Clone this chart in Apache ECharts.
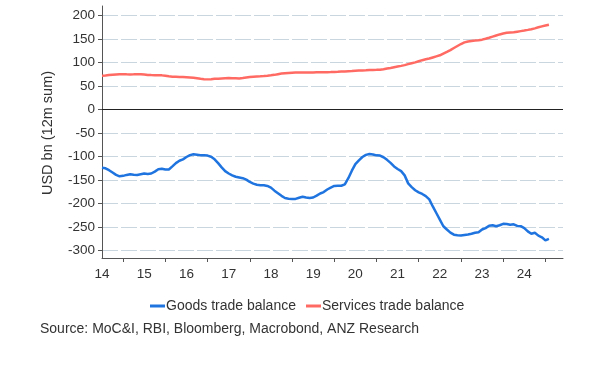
<!DOCTYPE html>
<html><head><meta charset="utf-8">
<script src="https://cdn.jsdelivr.net/npm/echarts@6/dist/echarts.min.js"></script>
<style>html,body{margin:0;padding:0;background:#fff}#c{width:604px;height:372px}</style>
</head><body><div id="c"></div>
<script>
// Monthly categories, Jul 2014 .. Jun 2025
const startYear = 2014, startMonth = 7, monthCount = 132;
const categories = [];
for (let k = 0; k < monthCount; k++) {
  const m = startMonth - 1 + k;
  const y = startYear + Math.floor(m / 12);
  const mo = (m % 12) + 1;
  categories.push(y + '-' + String(mo).padStart(2, '0'));
}
const seriesNames = ['Goods trade balance', 'Services trade balance'];
// USD bn, 12m sum
const goods = [
  -124,-125,-129,-134,-139,-142,-141,-139,-137.5,-138.5,
  -139,-137.5,-136,-137,-136,-132,-127,-126,-127.6,-127.6,
  -121,-114,-109,-106,-101,-97,-95,-96,-97,-97,
  -98,-100.5,-106,-114,-123,-131,-136,-140,-143,-144.5,
  -146,-149,-154,-157.5,-160,-161,-161,-162.5,-166,-172.5,
  -178,-183.5,-188,-189.5,-190,-190,-187.5,-185.5,-187,-188,
  -187,-183,-178.5,-175.5,-170,-166,-162.5,-162,-162,-159,
  -146,-130,-116,-108,-101,-96.5,-94.5,-95.5,-97.5,-98,
  -101.5,-107,-113.5,-121,-126.5,-131,-140,-157,-165,-171.5,
  -176,-179.5,-184,-191,-206,-220,-234,-248,-255,-261.5,
  -266,-267,-267.5,-266.5,-265.5,-264,-262,-261,-255,-252,
  -247,-246,-248,-246,-243,-243.5,-245,-244,-247.5,-248,
  -252,-259,-264,-262,-268,-271.5,-278,-275
];
const services = [
  71.5,72,73,73.8,74.5,75,75,74.7,74.5,74.7,
  75,74.8,74.2,73.3,73,72.8,72.6,72.4,71.5,70.5,
  69.6,69.3,69,68.8,68.4,68,67.5,66.5,65.2,64.4,
  63.9,64.3,65,65.4,65.8,66.2,66.6,66.5,66.3,66,
  66.8,67.8,68.8,69.4,69.9,70.4,71,71.7,72.5,73.5,
  75,76.2,77,77.6,78.2,78.6,78.7,78.7,78.7,78.7,
  78.7,78.9,79,79.1,79.3,79.5,79.8,80.1,80.5,80.8,
  81.2,81.6,82.1,82.6,82.9,83.2,83.6,83.9,84.1,84.4,
  85.3,86.8,88.2,89.7,91.2,92.6,94.2,96.3,98.3,100,
  102.5,104.7,106.6,108.2,110.5,112.8,115,118.8,122.3,126,
  130.5,134.8,139,142.5,144.5,145.5,146.3,147.2,148.3,150.3,
  152.4,154.8,157.2,159.4,161.3,162.8,163.5,164,165.2,166.4,
  167.6,169,170.5,172.3,174.5,176.5,178.4,180
];
const yMin = -300, yMax = 200, yStep = 50;

const FONT = '"Liberation Sans", Arial, sans-serif';
const chart = echarts.init(document.getElementById('c'), null, {renderer: 'canvas'});
chart.setOption({
  animation: false,
  backgroundColor: '#ffffff',
  textStyle: {fontFamily: FONT},
  title: {
    text: 'Source: MoC&I, RBI, Bloomberg, Macrobond, ANZ Research',
    left: 35, top: 317,
    textStyle: {fontSize: 14, fontWeight: 'normal', color: '#333', fontFamily: FONT}
  },
  legend: {
    data: seriesNames,
    left: 145, top: 294,
    icon: 'rect', itemWidth: 15, itemHeight: 3, itemGap: 10,
    textStyle: {fontSize: 14, color: '#333', fontFamily: FONT, padding: [0, 0, 0, -4]}
  },
  grid: [
    {left: 102, right: 41, top: 6, bottom: 114},
    {left: 102, right: 41, top: 15.3, bottom: 121.3}
  ],
  xAxis: [
    {
      gridIndex: 0, type: 'category', data: categories, boundaryGap: false,
      axisLine: {lineStyle: {color: '#555', width: 1}},
      axisTick: {interval: (i, v) => v.endsWith('-01'), length: 4, lineStyle: {color: '#555'}},
      axisLabel: {interval: (i, v) => v.endsWith('-07'), formatter: v => v.slice(2, 4),
        fontSize: 13.5, color: '#333', margin: 9, fontFamily: FONT},
      splitLine: {show: false}
    },
    {gridIndex: 1, type: 'category', data: categories, boundaryGap: false, show: false}
  ],
  yAxis: [
    {
      gridIndex: 0, type: 'value', min: 0, max: 1,
      axisLine: {show: true, lineStyle: {color: '#555', width: 1}},
      axisTick: {show: false}, axisLabel: {show: false}, splitLine: {show: false}
    },
    {
      gridIndex: 1, type: 'value', min: yMin, max: yMax, interval: yStep,
      name: 'USD bn (12m sum)', nameLocation: 'middle', nameGap: 47,
      nameTextStyle: {fontSize: 14.5, color: '#333', fontFamily: FONT},
      axisLine: {show: false},
      axisTick: {show: true, length: 4, lineStyle: {color: '#555'}},
      axisLabel: {fontSize: 13.5, color: '#333', margin: 7, fontFamily: FONT},
      splitLine: {show: true, lineStyle: {color: '#c9d6e0', width: 1, type: [16, 3]}}
    }
  ],
  series: [
    {
      name: seriesNames[0], type: 'line', xAxisIndex: 1, yAxisIndex: 1,
      data: goods, showSymbol: false, symbol: 'none', smooth: false,
      itemStyle: {color: '#1f74e0'},
      lineStyle: {color: '#1f74e0', width: 2.5}
    },
    {
      name: seriesNames[1], type: 'line', xAxisIndex: 1, yAxisIndex: 1,
      data: services, showSymbol: false, symbol: 'none', smooth: false,
      itemStyle: {color: '#ff6a63'},
      lineStyle: {color: '#ff6a63', width: 2.5},
      markLine: {
        silent: true, symbol: ['none', 'none'], label: {show: false},
        lineStyle: {color: '#222', width: 1, type: 'solid'},
        data: [{yAxis: 0}]
      }
    }
  ]
});
</script></body></html>
